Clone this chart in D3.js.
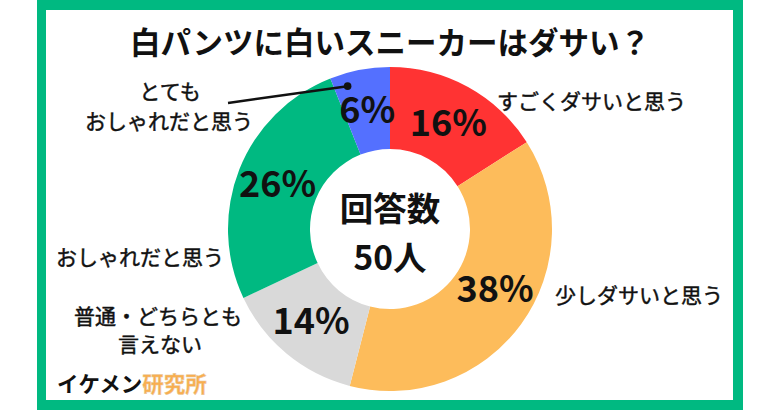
<!DOCTYPE html>
<html><head><meta charset="utf-8">
<script src="https://cdn.jsdelivr.net/npm/d3@7"></script>
<style>html,body{margin:0;padding:0;background:#fff;}svg{display:block;}
text{font-family:"Noto Sans CJK JP","Noto Sans",sans-serif;}</style>
</head><body>
<svg id="c" width="780" height="410"></svg>
<script>
const title = "白パンツに白いスニーカーはダサい？";
const categories = ["すごくダサいと思う","少しダサいと思う","普通・どちらとも言えない","おしゃれだと思う","とてもおしゃれだと思う"];
const values = [16, 38, 14, 26, 6];
const colors = ["#FF3333","#FDBC5B","#D9D9D9","#00B981","#5470FF"];
const centerLines = ["回答数","50人"];
const brand = ["イケメン","研究所"];

const svg = d3.select("#c");
// frame
svg.append("rect").attr("x",37).attr("y",0).attr("width",706).attr("height",410).attr("fill","#00B981");
svg.append("rect").attr("x",46).attr("y",10).attr("width",687).attr("height",390).attr("fill","#fff");

svg.append("text").attr("x",390).attr("y",54).attr("text-anchor","middle")
  .attr("font-size",30.5).attr("font-weight",700).attr("fill","#111").text(title);

const cx = 390, cy = 229, R = 162, r0 = 80;
const pie = d3.pie().sort(null).value(d=>d)(values);
const arc = d3.arc().innerRadius(r0).outerRadius(R);
const g = svg.append("g").attr("transform",`translate(${cx},${cy})`);
g.selectAll("path").data(pie).join("path").attr("d",arc).attr("fill",(d,i)=>colors[i]);

// label placement: centroid on mid ring, orange one slightly rotated as in the reference
const labelShift = [0, -0.11, 0.02, 0, 0];
g.selectAll("text.pct").data(pie).join("text").attr("class","pct")
  .attr("transform",(d,i)=>{
    const a = (d.startAngle+d.endAngle)/2 + labelShift[i], rr = 121;
    return `translate(${Math.sin(a)*rr},${-Math.cos(a)*rr})`;
  })
  .attr("text-anchor","middle").attr("dy","0.36em")
  .attr("font-size",36).attr("font-weight",700).attr("fill","#111")
  .text(d=>d.value+"%");

g.append("text").attr("x",0).attr("y",-20).attr("dy","0.36em").attr("text-anchor","middle")
  .attr("font-size",33.5).attr("font-weight",700).attr("fill","#111").text(centerLines[0]);
g.append("text").attr("x",0).attr("y",29).attr("dy","0.36em").attr("text-anchor","middle")
  .attr("font-size",33.5).attr("font-weight",700).attr("fill","#111").text(centerLines[1]);

// category labels
const lab = (x,y,t,anchor)=>svg.append("text").attr("x",x).attr("y",y).attr("dy","0.36em")
  .attr("text-anchor",anchor).attr("font-size",21).attr("font-weight",400)
  .attr("fill","#111").attr("stroke","#111").attr("stroke-width",0.45).text(t);
lab(497,101,categories[0],"start");
lab(555,295,categories[1],"start");
lab(158,316,"普通・どちらとも","middle");
lab(160,344,"言えない","middle");
lab(140,257,categories[3],"middle");
lab(170,91,"とても","middle");
lab(169,121,"おしゃれだと思う","middle");

// leader line for small slice
const blue = pie[4];
const ang = (blue.startAngle+blue.endAngle)/2 - 0.1;
const px = cx + Math.sin(ang)*(R-13), py = cy - Math.cos(ang)*(R-13);
svg.append("line").attr("x1",228).attr("y1",103).attr("x2",px).attr("y2",py)
  .attr("stroke","#111").attr("stroke-width",2.5);
svg.append("circle").attr("cx",px).attr("cy",py).attr("r",3.8).attr("fill","#111");

const bt = svg.append("text").attr("x",57).attr("y",384).attr("dy","0.36em")
  .attr("font-size",21.5).attr("font-weight",700);
bt.append("tspan").attr("fill","#111").text(brand[0]);
bt.append("tspan").attr("fill","#F9AE4F").attr("stroke","#E8C9A0").attr("stroke-width",0.5).text(brand[1]);
</script>
</body></html>
